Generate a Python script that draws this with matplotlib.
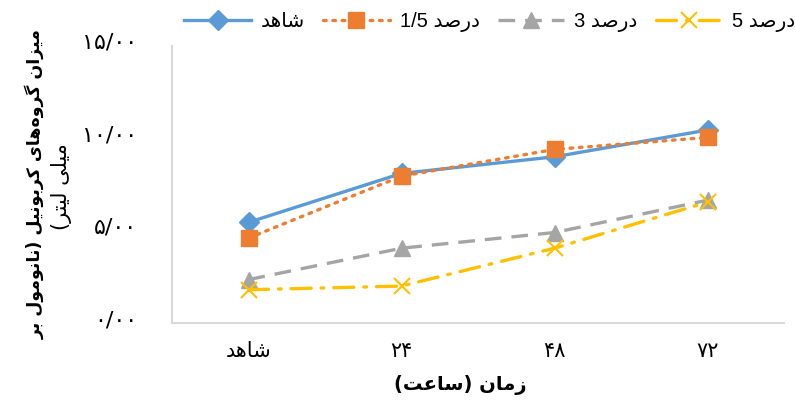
import numpy as np
import matplotlib
matplotlib.use('Agg')
import matplotlib.pyplot as plt
from matplotlib.transforms import ScaledTranslation

# داده‌ها
categories = ['شاهد', '۲۴', '۴۸', '۷۲']
shahed = [5.45, 8.1, 9.0, 10.45]
dars_1_5 = [4.6, 7.95, 9.4, 10.05]
dars_3 = [2.35, 4.05, 4.9, 6.65]
dars_5 = [1.8, 2.0, 4.05, 6.55]
series_names = ['شاهد', 'درصد 1/5', 'درصد 3', 'درصد 5']
yticks = [0, 5, 10, 15]
ytick_labels = ['۰/۰۰', '۵/۰۰', '۱۰/۰۰', '۱۵/۰۰']
xlabel = 'زمان (ساعت)'
ylabel1 = 'میزان گروه\u200cهای کربونیل (نانومول بر'
ylabel2 = 'میلی لیتر)'

# شکل‌دهی ساده حروف فارسی (matplotlib اتصال و راست‌به‌چپ ندارد)
FORMS = {
    'ا': ('\uFE8D', '\uFE8E', None, None),
    'ب': ('\uFE8F', '\uFE90', '\uFE91', '\uFE92'),
    'ت': ('\uFE95', '\uFE96', '\uFE97', '\uFE98'),
    'د': ('\uFEA9', '\uFEAA', None, None),
    'ر': ('\uFEAD', '\uFEAE', None, None),
    'ز': ('\uFEAF', '\uFEB0', None, None),
    'س': ('\uFEB1', '\uFEB2', '\uFEB3', '\uFEB4'),
    'ش': ('\uFEB5', '\uFEB6', '\uFEB7', '\uFEB8'),
    'ص': ('\uFEB9', '\uFEBA', '\uFEBB', '\uFEBC'),
    'ع': ('\uFEC9', '\uFECA', '\uFECB', '\uFECC'),
    'ل': ('\uFEDD', '\uFEDE', '\uFEDF', '\uFEE0'),
    'م': ('\uFEE1', '\uFEE2', '\uFEE3', '\uFEE4'),
    'ن': ('\uFEE5', '\uFEE6', '\uFEE7', '\uFEE8'),
    'ه': ('\uFEE9', '\uFEEA', '\uFEEB', '\uFEEC'),
    'و': ('\uFEED', '\uFEEE', None, None),
    'ک': ('\uFB8E', '\uFB8F', '\uFB90', '\uFB91'),
    'گ': ('\uFB92', '\uFB93', '\uFB94', '\uFB95'),
    'ی': ('\uFBFC', '\uFBFD', '\uFBFE', '\uFBFF'),
}


def dual(c):
    return c in FORMS and FORMS[c][2] is not None


def fa(text):
    out = []
    for i, c in enumerate(text):
        if c not in FORMS:
            out.append(c)
            continue
        prev = text[i - 1] if i > 0 else ''
        nxt = text[i + 1] if i + 1 < len(text) else ''
        pj = dual(prev)
        nj = dual(c) and nxt in FORMS
        iso, fin, ini, med = FORMS[c]
        if pj and nj:
            out.append(med)
        elif pj:
            out.append(fin)
        elif nj:
            out.append(ini)
        else:
            out.append(iso)
    s = ''.join(out).replace('\u200c', '')
    # ترتیب دیداری: برعکس، ولی اعداد به همان ترتیب
    runs, cur, cur_num = [], '', None
    for c in s:
        isnum = c.isdigit() or c == '/'
        if cur and isnum != cur_num:
            runs.append((cur, cur_num))
            cur = ''
        cur += c
        cur_num = isnum
    if cur:
        runs.append((cur, cur_num))
    vis = ''
    for r, isnum in reversed(runs):
        vis += r if isnum else r[::-1]
    return vis.translate(str.maketrans('()', ')('))


FAM = ['DejaVu Sans']
FAM_LAT = ['Liberation Sans', 'DejaVu Sans']

blue = '#5B9BD5'
orange = '#ED7D31'
gray = '#A5A5A5'
yellow = '#FFC000'

fig = plt.figure(figsize=(7.95, 4.03), dpi=100)
ax = fig.add_axes([172 / 795, 1 - 323 / 403, 612 / 795, 277 / 403])

x = np.arange(len(categories))
l1, = ax.plot(x, shahed, color=blue, lw=2.4, marker='D', ms=10, zorder=3)
l2, = ax.plot(x, dars_1_5, color=orange, lw=2.4, ls=(0, (0.8, 2.0)), dash_capstyle='round',
              marker='s', ms=11.5, zorder=4)
l3, = ax.plot(x, dars_3, color=gray, lw=2.4, ls=(0, (5, 3)), marker='^', ms=11, zorder=3)
l4, = ax.plot(x, dars_5, color=yellow, lw=2.4, ls=(0, (6, 3, 0.8, 3)), dash_capstyle='round',
              marker='x', ms=12, mew=1.5, zorder=3)

ax.set_xlim(-0.5, len(categories) - 0.5)
ax.set_ylim(0, 15)
ax.set_yticks(yticks)
ax.set_yticklabels(ytick_labels, family=FAM, fontsize=16)
ax.set_xticks(x)
ax.set_xticklabels([fa(c) for c in categories], family=FAM, fontsize=15)
ax.tick_params(axis='y', length=0, pad=25)
ax.tick_params(axis='x', length=0, pad=13)
for t in ax.get_yticklabels():
    t.set_transform(t.get_transform() + ScaledTranslation(0, 5 / 100, fig.dpi_scale_trans))

for s in ['top', 'right']:
    ax.spines[s].set_visible(False)
for s in ['left', 'bottom']:
    ax.spines[s].set_color('#D9D9D9')
    ax.spines[s].set_linewidth(1.5)

fig.text(460 / 795, 1 - 385 / 403, fa(xlabel), ha='center', va='center',
         family=FAM, fontsize=14, fontweight='bold')
fig.text(35 / 795, 1 - 184 / 403, fa(ylabel1), ha='center', va='center', rotation=90,
         family=FAM, fontsize=12.5, fontweight='bold')
fig.text(62 / 795, 1 - 187 / 403, fa(ylabel2), ha='center', va='center', rotation=90,
         family=FAM, fontsize=15)

labels = []
for n in series_names:
    parts = n.split(' ')
    if len(parts) == 2:
        labels.append(parts[1] + ' ' + fa(parts[0]))
    else:
        labels.append(fa(n))

leg = fig.legend([l1, l2, l3, l4], labels, loc='center', bbox_to_anchor=(490 / 795, 1 - 22 / 403),
                 ncol=4, frameon=False, handlelength=3.3, handletextpad=0.5, columnspacing=0.9,
                 prop={'family': FAM_LAT, 'size': 14.5})

fig.savefig('out.png', dpi=100)
